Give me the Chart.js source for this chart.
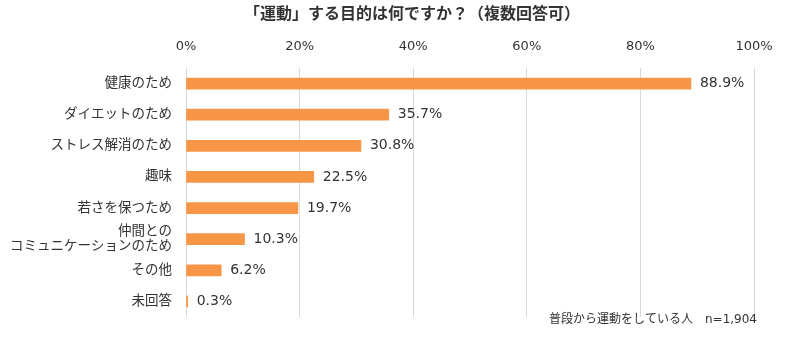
<!DOCTYPE html>
<html>
<head>
<meta charset="utf-8">
<script src="https://cdn.jsdelivr.net/npm/chart.js@4"></script>
<style>
  html, body { margin: 0; padding: 0; background: #ffffff; }
  #wrap { width: 800px; height: 340px; }
</style>
</head>
<body>
<div id="wrap"><canvas id="c" width="800" height="340"></canvas></div>
<script>
const titleText = '「運動」する目的は何ですか？（複数回答可）';
const footnoteText = '普段から運動をしている人　n=1,904';
const categories = [
  '健康のため',
  'ダイエットのため',
  'ストレス解消のため',
  '趣味',
  '若さを保つため',
  ['仲間との', 'コミュニケーションのため'],
  'その他',
  '未回答'
];
const values = [88.9, 35.7, 30.8, 22.5, 19.7, 10.3, 6.2, 0.3];
const tickLabels = ['0%', '20%', '40%', '60%', '80%', '100%'];

const FONT = "'DejaVu Sans', 'Noto Sans CJK JP', sans-serif";
const TEXT = '#333333';

const textPlugin = {
  id: 'textPlugin',
  afterDatasetsDraw(chart) {
    const ctx = chart.ctx;
    const meta = chart.getDatasetMeta(0);
    ctx.save();
    ctx.font = '14px ' + FONT;
    ctx.fillStyle = TEXT;
    ctx.textAlign = 'left';
    ctx.textBaseline = 'middle';
    meta.data.forEach((bar, i) => {
      ctx.fillText(values[i].toFixed(1) + '%', bar.x + 9, bar.y);
    });
    ctx.restore();
  },
  afterDraw(chart) {
    const ctx = chart.ctx;
    ctx.save();
    ctx.fillStyle = TEXT;
    ctx.textBaseline = 'middle';
    ctx.textAlign = 'center';
    ctx.font = 'bold 16px ' + FONT;
    ctx.fillText(titleText, 412, 15);
    ctx.textAlign = 'right';
    ctx.font = '12px ' + FONT;
    ctx.fillText(footnoteText, chart.chartArea.right + 3, chart.chartArea.bottom + 3);
    ctx.restore();
  }
};

new Chart(document.getElementById('c'), {
  type: 'bar',
  data: {
    labels: categories,
    datasets: [{
      data: values,
      backgroundColor: '#F79646',
      borderWidth: 0,
      barThickness: 11
    }]
  },
  options: {
    indexAxis: 'y',
    responsive: false,
    animation: false,
    devicePixelRatio: 1,
    layout: { padding: { left: 0, right: 46, top: 30, bottom: 23 } },
    plugins: {
      legend: { display: false },
      tooltip: { enabled: false },
      title: { display: false }
    },
    scales: {
      x: {
        position: 'top',
        min: 0,
        max: 100,
        ticks: {
          stepSize: 20,
          padding: 14,
          color: TEXT,
          font: { family: FONT, size: 13 },
          callback: (v, i) => tickLabels[i]
        },
        grid: { color: '#d9d9d9', lineWidth: 1, drawTicks: false },
        border: { display: false },
        afterFit(scale) { scale.height = 38; }
      },
      y: {
        ticks: {
          autoSkip: false,
          padding: 14,
          color: TEXT,
          font: { family: FONT, size: 13.5, lineHeight: 1.15 }
        },
        grid: { display: false, drawTicks: false },
        border: { display: false },
        afterFit(scale) { scale.width = 186; }
      }
    }
  },
  plugins: [textPlugin]
});
</script>
</body>
</html>
